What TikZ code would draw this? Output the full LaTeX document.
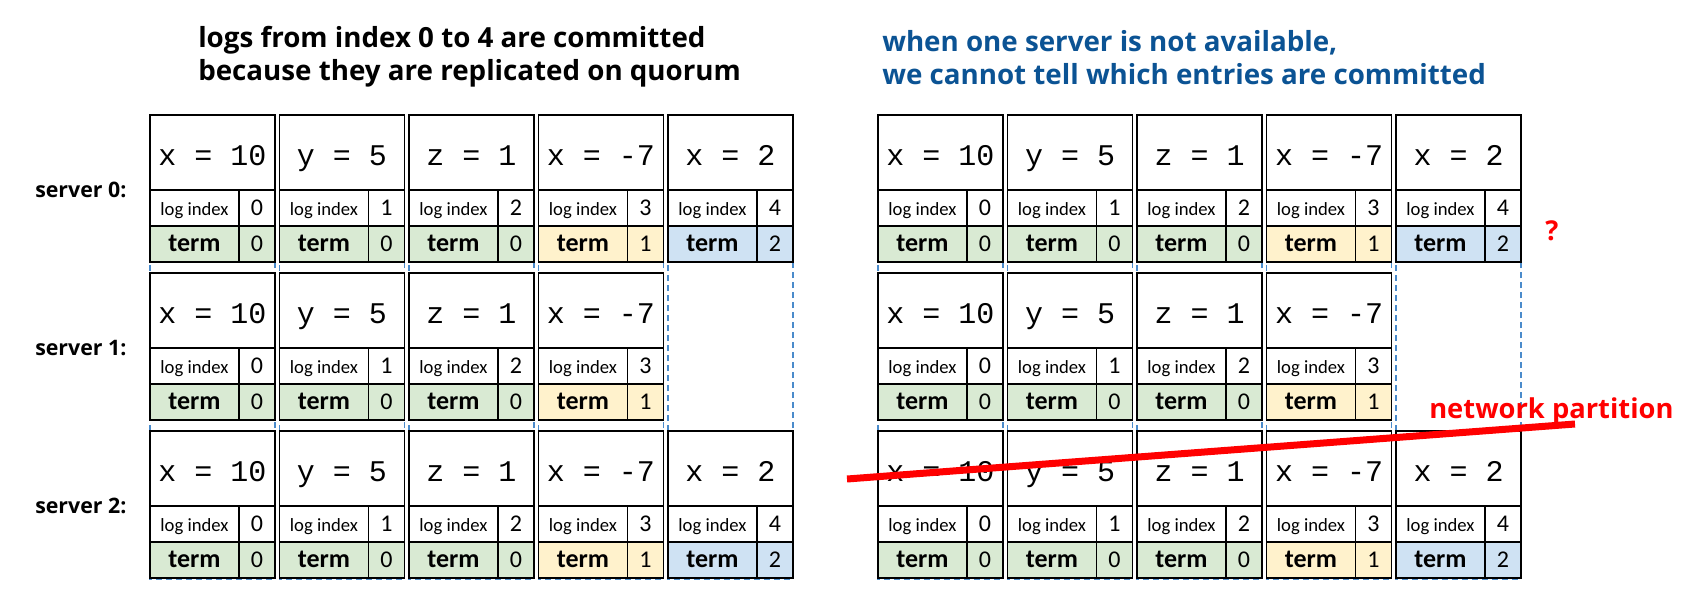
\documentclass[tikz,border=0pt]{standalone}
\usepackage{fontspec}
\newfontfamily\calfont{Carlito}
\newfontfamily\monofont{Liberation Mono}
\newfontfamily\osfont{Open Sans}
\definecolor{tgreen}{HTML}{D9EAD3}
\definecolor{tyellow}{HTML}{FFF2CC}
\definecolor{tblue}{HTML}{CFE2F3}
\definecolor{titleblue}{HTML}{0B5394}
\definecolor{dashblue}{HTML}{4A8BCB}
\tikzset{
  cellbase/.style={draw=black, line width=1.4pt, inner sep=0pt, outer sep=0pt, anchor=north west},
  valbox/.style={cellbase, minimum width=93.75pt, minimum height=56.25pt,
     font=\monofont\fontsize{22.5}{24}\selectfont, text height=20pt, text depth=1.2pt},
  lblbox/.style={cellbase, minimum width=66.75pt, minimum height=27pt,
     font=\calfont\fontsize{14}{16}\selectfont, text height=11pt, text depth=0.5pt},
  termbox/.style={lblbox, font=\calfont\bfseries\fontsize{19.5}{21}\selectfont},
  numbox/.style={cellbase, minimum width=27pt, minimum height=27pt,
     font=\calfont\fontsize{18}{20}\selectfont, text height=11.5pt, text depth=0.5pt},
  dashcol/.style={draw=dashblue, line width=1.2pt, dash pattern=on 4.5pt off 3pt},
  srvlabel/.style={anchor=base west, inner sep=0pt, font=\osfont\bfseries\fontsize{16}{18}\selectfont},
  titletext/.style={anchor=base west, inner sep=0pt, align=left, font=\osfont\bfseries\fontsize{20.8}{24.5}\selectfont},
  redtext/.style={anchor=base west, inner sep=0pt, text=red, font=\osfont\bfseries\fontsize{20.5}{22}\selectfont},
  partline/.style={draw=red, line width=5.25pt},
}
\newcommand\logcell[7]{%
  \node[valbox] (#1-v) at (#2,#3) {#4};
  \node[lblbox] (#1-l) at (#2,#3+75) {log index};
  \node[numbox] (#1-i) at (#2+89,#3+75) {#5};
  \node[termbox, fill=#7] (#1-t) at (#2,#3+111) {term};
  \node[numbox, fill=#7] (#1-n) at (#2+89,#3+111) {#6};
}
\begin{document}
\begin{tikzpicture}[x=0.75pt,y=-0.75pt]
\useasboundingbox[fill=white] (0,0) rectangle (1697,611);

% dashed column guides
\foreach \xo in {150,878}{
  \foreach \c in {0,...,4}{
    \draw[dashcol] (\xo+129.5*\c,115) rectangle ++(125,464);
  }
}

% cells
\foreach \tab/\xo in {L/150,R/878}{
  \foreach \r in {0,1,2}{
    \foreach \c/\val/\tm/\col in {0/{x = 10}/0/tgreen,1/{y = 5}/0/tgreen,2/{z = 1}/0/tgreen,3/{x = -7}/1/tyellow,4/{x = 2}/2/tblue}{
      \ifnum\r=1 \ifnum\c=4 \else
        \pgfmathsetmacro\cx{\xo+129.5*\c}\pgfmathsetmacro\cy{115+158*\r}
        \logcell{\tab-\r-\c}{\cx}{\cy}{\val}{\c}{\tm}{\col}
      \fi\else
        \pgfmathsetmacro\cx{\xo+129.5*\c}\pgfmathsetmacro\cy{115+158*\r}
        \logcell{\tab-\r-\c}{\cx}{\cy}{\val}{\c}{\tm}{\col}
      \fi
    }
  }
}

% server labels
\node[srvlabel] (s0) at (35,197) {server 0:};
\node[srvlabel] (s1) at (35,355) {server 1:};
\node[srvlabel] (s2) at (35,513) {server 2:};

% titles (base anchor = baseline of last line)
\node[titletext] (t1) at (198,80) {logs from index 0 to 4 are committed\\because they are replicated on quorum};
\node[titletext, text=titleblue] (t2) at (882,84) {when one server is not available,\\we cannot tell which entries are committed};

% network partition
\node[redtext] (q) at (1545,240) {?};
\node[redtext] (np) at (1429,418) {network partition};
\coordinate (pa) at (847,479);
\coordinate (pb) at (1575,424);
\draw[partline] (pa) -- (pb);
\end{tikzpicture}
\end{document}
